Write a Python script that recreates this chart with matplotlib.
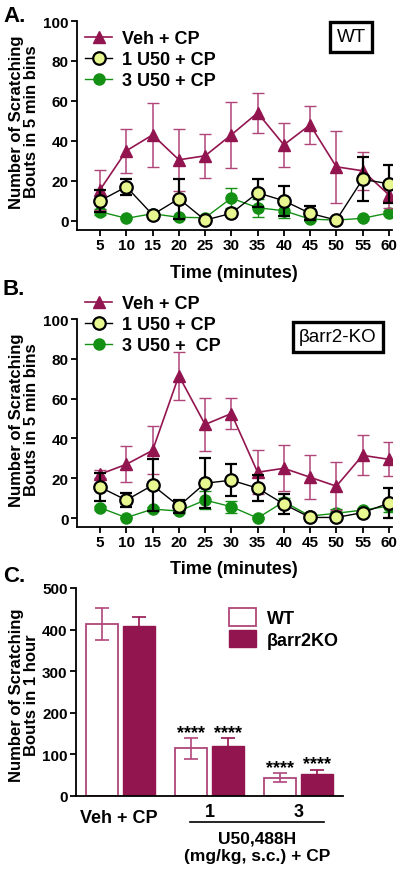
import numpy as np
import matplotlib.pyplot as plt
from matplotlib.lines import Line2D
from matplotlib.patches import Patch

plt.rcParams['font.family'] = ['Liberation Sans', 'DejaVu Sans']
plt.rcParams['font.weight'] = 'bold'

# data
times = [5, 10, 15, 20, 25, 30, 35, 40, 45, 50, 55, 60]

veh_wt = [15.5, 35, 43, 30.5, 32.5, 43, 54, 38, 48, 27, 25, 13]
veh_wt_err = [10, 11, 16, 15.5, 11, 16.5, 10, 11, 9.5, 18, 9.5, 6.5]
u1_wt = [10, 17, 3, 11, 0.3, 3.7, 14, 10, 3.7, 0.3, 20.7, 18.5]
u1_wt_err = [5.5, 4, 1, 10, 0.5, 1, 7, 7.5, 3.5, 0.3, 11, 9.5]
u3_wt = [4.5, 1.2, 3.5, 1.7, 1.5, 11.3, 6.5, 5, 0.8, 0.3, 1.2, 3.9]
u3_wt_err = [1.5, 0.5, 1.5, 0.8, 0.5, 5, 4.5, 3.5, 0.8, 0.3, 0.5, 1]

veh_ko = [22, 27, 34, 71.5, 47, 52.5, 23, 25, 20.5, 16, 31.5, 29.5]
veh_ko_err = [2, 9, 12, 12, 13.5, 8, 11, 11.5, 11, 12, 10, 8.5]
u1_ko = [15.5, 9, 16.5, 6, 17.5, 19, 15, 7, 0.3, 0.3, 2.7, 7.5]
u1_ko_err = [7, 3.5, 13, 3.3, 12.5, 8, 6.5, 5, 0.5, 0.5, 1, 7.5]
u3_ko = [5.2, 0.2, 4.5, 3.5, 9, 5.7, 0, 8.2, 1, 2.4, 4, 6]
u3_ko_err = [1, 0.2, 1, 1, 4.5, 3, 0.3, 2, 1, 2, 1, 3]

groups = ['Veh + CP', '1', '3']
wt_total = [413, 114, 43]
wt_total_err = [38, 25, 11]
ko_total = [408, 120, 52]
ko_total_err = [23, 19, 11]
stars = ['', '****', '****']

maroon = '#931550'
pink = '#b0457a'
yellow = '#e8f78f'
green = '#149014'

W, H = 400, 870
fig = plt.figure(figsize=(4, 8.7), dpi=100)


def rect(l, t, r, b):
    return [l / W, 1 - b / H, (r - l) / W, (b - t) / H]


def px(x, y):
    return x / W, 1 - y / H


def style(ax):
    for s in ['top', 'right']:
        ax.spines[s].set_visible(False)
    for s in ['left', 'bottom']:
        ax.spines[s].set_linewidth(1.3)
    ax.tick_params(width=1.3, length=4, labelsize=11, pad=2)
    for lab in ax.get_xticklabels() + ax.get_yticklabels():
        lab.set_fontweight('bold')


def time_panel(ax, veh, veh_e, u1, u1_e, u3, u3_e, labels, box, leg_y):
    ax.errorbar(times, u3, yerr=u3_e, color=green, lw=1, marker='o', ms=8,
                mec=green, capsize=4, elinewidth=1, zorder=2)
    ax.errorbar(times, veh, yerr=veh_e, color=maroon, ecolor=pink, lw=1.2,
                marker='^', ms=9, capsize=4.5, elinewidth=1.1, zorder=3)
    ax.errorbar(times, u1, yerr=u1_e, color='black', lw=1, marker='o', ms=9,
                mfc=yellow, mec='black', mew=1.6, capsize=4.5, elinewidth=1.6,
                capthick=1.6, zorder=4)
    ax.set_xlim(0.6, 60.6)
    ax.set_ylim(-4.5, 100)
    ax.set_xticks(times)
    ax.set_yticks([0, 20, 40, 60, 80, 100])
    style(ax)
    handles = [Line2D([], [], color=maroon, marker='^', ms=9, lw=1.2),
               Line2D([], [], color='black', marker='o', ms=9, mfc=yellow,
                      mec='black', mew=1.6, lw=1),
               Line2D([], [], color=green, marker='o', ms=8, lw=1)]
    fig.legend(handles, labels, loc='upper left',
               bbox_to_anchor=px(78, leg_y), frameon=False,
               prop={'weight': 'bold', 'size': 13}, handlelength=1.5,
               handletextpad=0.55, labelspacing=0.22, borderaxespad=0)
    fig.text(*px(*box[0]), box[1], fontsize=13.5, weight='normal',
             ha='center', va='center',
             bbox=dict(boxstyle='square,pad=0.35', fc='white', ec='black',
                       lw=2.4))


axA = fig.add_axes(rect(77, 22, 392, 230.7))
time_panel(axA, veh_wt, veh_wt_err, u1_wt, u1_wt_err, u3_wt, u3_wt_err,
           ['Veh + CP', '1 U50 + CP', '3 U50 + CP'],
           ((351, 38), 'WT'), 24)

axB = fig.add_axes(rect(77, 320, 392, 528))
time_panel(axB, veh_ko, veh_ko_err, u1_ko, u1_ko_err, u3_ko, u3_ko_err,
           ['Veh + CP', '1 U50 + CP', '3 U50 +  CP'],
           ((338, 338), '\u03b2arr2-KO'), 289)

for ax, yc in [(axA, 273), (axB, 569)]:
    fig.text(*px(234, yc), 'Time (minutes)', fontsize=13, weight='bold',
             ha='center', va='center')

for yc, txt in [(122, 'Number of Scratching\nBouts in 5 min bins'),
                (420, 'Number of Scratching\nBouts in 5 min bins'),
                (695, 'Number of Scratching\nBouts in 1 hour')]:
    fig.text(*px(24, yc), txt, fontsize=12, weight='bold', rotation=90,
             ha='center', va='center', multialignment='center',
             linespacing=1.05)

for lab, yc in [('A.', 16), ('B.', 290), ('C.', 576)]:
    fig.text(*px(3, yc), lab, fontsize=16, weight='bold', ha='left',
             va='center')

# panel C
axC = fig.add_axes(rect(76, 589, 343, 796.7))
x = np.arange(len(groups))
off, bw = 0.208, 0.35
axC.bar(x - off, wt_total, bw, color='white', edgecolor=pink, lw=1.3,
        yerr=wt_total_err, error_kw=dict(ecolor=pink, elinewidth=1.2,
                                         capsize=5, capthick=1.2))
axC.bar(x + off, ko_total, bw, color=maroon, edgecolor=maroon, lw=1,
        yerr=ko_total_err, error_kw=dict(ecolor=maroon, elinewidth=1.2,
                                         capsize=5, capthick=1.2))
for xi, s, wt, we, ko, ke in zip(x, stars, wt_total, wt_total_err,
                                 ko_total, ko_total_err):
    if s:
        axC.text(xi - off, wt + we + 14, s, ha='center', va='center',
                 fontsize=13, weight='bold')
        axC.text(xi + off, ko + ke + 14, s, ha='center', va='center',
                 fontsize=13, weight='bold')
axC.set_xlim(-0.5, 2.5)
axC.set_ylim(0, 500)
axC.set_yticks([0, 100, 200, 300, 400, 500])
axC.set_xticks([])
style(axC)

fig.text(*px(119, 819), groups[0], fontsize=13, weight='bold',
         ha='center', va='center')
for xi, g in zip(x[1:], groups[1:]):
    xp = 76 + (xi + 0.5) * (343 - 76) / 3
    fig.text(*px(xp, 813), g, fontsize=13, weight='bold', ha='center',
             va='center')
fig.add_artist(Line2D([190 / W, 324 / W], [1 - 823 / H, 1 - 823 / H],
                      color='black', lw=1.2))
fig.text(*px(257, 839), 'U50,488H', fontsize=12.5, weight='bold',
         ha='center', va='center')
fig.text(*px(257, 857), '(mg/kg, s.c.) + CP', fontsize=12.5, weight='bold',
         ha='center', va='center')

leg_handles = [Patch(facecolor='white', edgecolor=pink, lw=1.3),
               Patch(facecolor=maroon, edgecolor=maroon)]
fig.legend(leg_handles, ['WT', '\u03b2arr2KO'], loc='upper left',
           bbox_to_anchor=px(222, 602), frameon=False,
           prop={'weight': 'bold', 'size': 13}, handlelength=1.5,
           handleheight=1.1, handletextpad=0.6, labelspacing=0.15,
           borderaxespad=0)

fig.savefig('out.png', dpi=100)
